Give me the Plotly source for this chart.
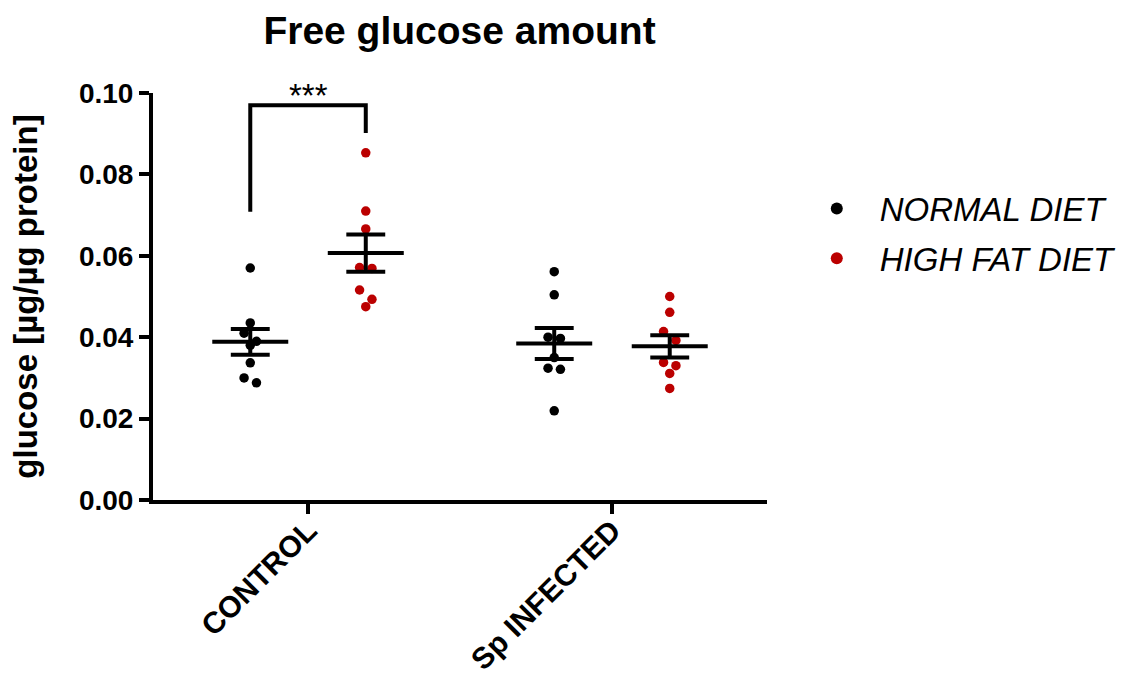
import numpy as np
import plotly.graph_objects as go

# ---- data ----
categories = ["CONTROL", "Sp INFECTED"]
series_names = ["NORMAL DIET", "HIGH FAT DIET"]
normal_control = [0.0570, 0.0435, 0.0410, 0.0390, 0.0380, 0.0337, 0.0300, 0.0288]
hfd_control = [0.0853, 0.0710, 0.0666, 0.0571, 0.0569, 0.0516, 0.0493, 0.0475]
normal_infected = [0.0561, 0.0504, 0.0400, 0.0397, 0.0350, 0.0324, 0.0321, 0.0219]
hfd_infected = [0.0500, 0.0461, 0.0414, 0.0392, 0.0338, 0.0330, 0.0311, 0.0274]
y_ticks = [0.00, 0.02, 0.04, 0.06, 0.08, 0.10]
significance = "***"

colors = ["#000000", "#BB0000"]
FONT = "Liberation Sans"

groups = [
    (0, 0, normal_control),
    (0, 1, hfd_control),
    (1, 0, normal_infected),
    (1, 1, hfd_infected),
]
GROUP_OFF = 0.19
PX_X = 307.0      # px per x unit
PX_Y = 4070.0     # px per y unit


def swarm(values):
    """Simple row-based beeswarm: returns x offsets (data units)."""
    order = sorted(range(len(values)), key=lambda i: -values[i])
    offs = [0.0] * len(values)
    rows = []
    for i in order:
        if rows and abs(values[rows[-1][0]] - values[i]) * PX_Y < 9.5:
            rows[-1].append(i)
        else:
            rows.append([i])
    step = 12.5 / PX_X
    for r in rows:
        n = len(r)
        for k, i in enumerate(r):
            offs[i] = (k - (n - 1) / 2) * step
    return offs


fig = go.Figure()

# points
for s in range(2):
    xs, ys = [], []
    for cat, ser, vals in groups:
        if ser != s:
            continue
        center = cat + (GROUP_OFF if ser else -GROUP_OFF)
        offs = swarm(vals)
        xs += [center + o for o in offs]
        ys += list(vals)
    fig.add_trace(go.Scatter(
        x=xs, y=ys, mode="markers", name="<i>" + series_names[s] + "</i>",
        legendgroup="g%d" % s,
        marker=dict(color=colors[s], size=9.5, line=dict(width=0)),
        cliponaxis=False,
    ))

# mean +/- SEM
ex, ey = [], []
MW, CW = 0.125, 0.064
for cat, ser, vals in groups:
    v = np.array(vals)
    m = v.mean()
    sem = v.std(ddof=1) / np.sqrt(len(v))
    c = cat + (GROUP_OFF if ser else -GROUP_OFF)
    ex += [c - MW, c + MW, None, c - CW, c + CW, None, c - CW, c + CW, None, c, c, None]
    ey += [m, m, None, m + sem, m + sem, None, m - sem, m - sem, None, m - sem, m + sem, None]
fig.add_trace(go.Scatter(x=ex, y=ey, mode="lines", line=dict(color="black", width=4),
                         showlegend=False, hoverinfo="skip"))

# significance bracket
bx0, bx1 = -GROUP_OFF, GROUP_OFF
fig.add_trace(go.Scatter(
    x=[bx0, bx0, bx1, bx1], y=[0.0708, 0.0970, 0.0970, 0.0902],
    mode="lines", line=dict(color="black", width=4), showlegend=False, hoverinfo="skip",
    cliponaxis=False,
))
fig.add_annotation(x=0, y=0.0943, xref="x", yref="y", text=significance, showarrow=False,
                   yanchor="bottom", font=dict(family=FONT, size=33, color="black"))

fig.update_layout(
    width=1134, height=673,
    margin=dict(l=153, r=362, t=93, b=173),
    paper_bgcolor="white", plot_bgcolor="white",
    title=dict(text="<b>Free glucose amount</b>", x=(462 - 153) / 619, xref="paper",
               xanchor="center", y=1 - 30 / 673, yref="container", yanchor="middle",
               font=dict(family=FONT, size=39, color="black")),
    showlegend=True,
    legend=dict(x=(799 - 153) / 619, xanchor="left", y=0.785, yanchor="top",
                font=dict(family=FONT, size=33, color="black"),
                itemsizing="constant", itemwidth=76, tracegroupgap=4,
                bgcolor="rgba(0,0,0,0)"),
    xaxis=dict(range=[-0.51, 1.51], tickvals=[0, 1], ticktext=categories,
               tickangle=-45, ticks="outside", ticklen=10, tickwidth=4, tickcolor="black",
               showline=True, linewidth=4, linecolor="black", showgrid=False, zeroline=False,
               automargin=False, ticklabelstandoff=-13,
               tickfont=dict(family=FONT, size=30, color="black", weight="bold")),
    yaxis=dict(range=[0, 0.1], tickvals=y_ticks, tickformat=".2f",
               ticks="outside", ticklen=10, tickwidth=4, tickcolor="black",
               showline=True, linewidth=4, linecolor="black", showgrid=False, zeroline=False,
               automargin=False,
               tickfont=dict(family=FONT, size=28, color="black", weight="bold"),
               title=dict(text="<b>glucose [µg/µg protein]</b>", standoff=32,
                          font=dict(family=FONT, size=33, color="black"))),
)

fig.write_html("out.html")
